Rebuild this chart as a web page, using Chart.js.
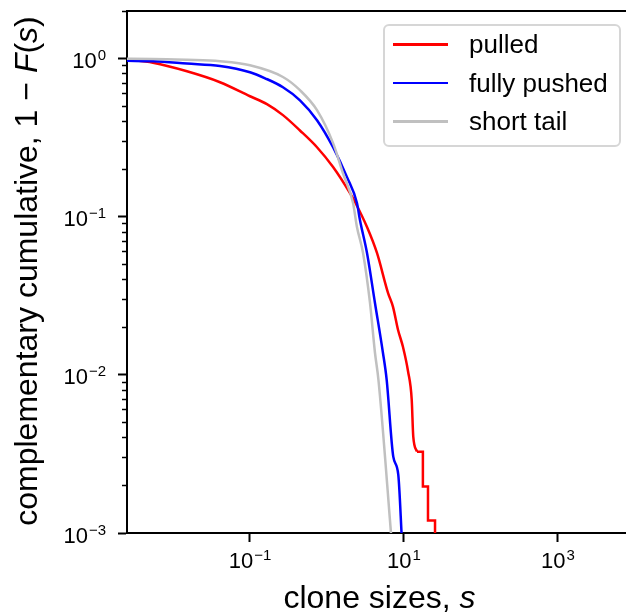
<!DOCTYPE html>
<html>
<head>
<meta charset="utf-8">
<script src="https://cdn.jsdelivr.net/npm/chart.js@4/dist/chart.umd.min.js"></script>
<style>
  html, body { margin: 0; padding: 0; background: #fff; }
  #wrap { position: relative; width: 626px; height: 616px; overflow: hidden; }
  #legend {
    position: absolute; left: 383px; top: 24px; width: 234px; height: 119px;
    border: 2px solid #d6d6d6; border-radius: 6px; background: rgba(255,255,255,0.85);
    font-family: "Liberation Sans", Arial, sans-serif; font-size: 26px; color: #000;
  }
  .row { position: absolute; left: 0; height: 36px; line-height: 36px; white-space: nowrap; }
  .swatch { position: absolute; left: 8px; top: 17px; width: 55px; height: 2.5px; }
  .label { position: absolute; left: 84px; top: 0; }
</style>
</head>
<body>
<div id="wrap">
  <canvas id="chart" width="626" height="616"></canvas>
  <div id="legend"></div>
</div>
<script>
// clone size s and complementary cumulative 1 - F(s)
const seriesNames = ['pulled', 'fully pushed', 'short tail'];
const seriesColors = ['#ff0000', '#0000ff', '#c0c0c0'];

const pulledS = [0.0025, 0.0055, 0.0152, 0.0408, 0.1, 0.166, 0.268, 0.446, 0.742, 1.2, 1.99, 2.31, 3.31, 4.46,
                 6.2, 7.2, 8.36, 9.71, 11.3, 12.6, 13.2, 14.75, 17.6, 17.6, 20.5, 20.5, 25.3, 25.3];
const pulledY = [0.99, 0.941, 0.831, 0.709, 0.578, 0.515, 0.439, 0.351, 0.275, 0.206, 0.141, 0.124, 0.0861, 0.059,
                 0.033, 0.0269, 0.0193, 0.015, 0.0105, 0.00697, 0.00407, 0.00327, 0.00327, 0.00197, 0.00197, 0.0012, 0.0012, 0.0005];
const pulledStepFrom = 21; // empirical steps in the tail

const pushedS = [0.0025, 0.0055, 0.0152, 0.0408, 0.1, 0.157, 0.268, 0.446, 0.742, 1.2, 1.82, 2.45, 2.68, 3.31,
                 4.2, 5.33, 5.96, 7.26, 8.43, 9.4];
const pushedY = [0.969, 0.962, 0.93, 0.898, 0.82, 0.751, 0.659, 0.545, 0.408, 0.275, 0.178, 0.122, 0.0953, 0.059,
                 0.0285, 0.0138, 0.00931, 0.00304, 0.00234, 0.0009];

const shortS = [0.0025, 0.0055, 0.0152, 0.0408, 0.1, 0.268, 0.446, 0.742, 1.2, 1.61, 2.18, 2.45, 2.94, 3.62,
                4.2, 4.66, 6.9];
const shortY = [0.997, 0.996, 0.983, 0.962, 0.907, 0.765, 0.631, 0.472, 0.292, 0.189, 0.122, 0.0861, 0.059, 0.0285,
                0.0138, 0.00931, 0.0009];

const xMin = 0.00253, xMax = 7640;
const yMin = 0.001, yMax = 2;
const xTickVals = [0.1, 10, 1000];
const xTickExps = ['−1', '1', '3'];
const yTickVals = [1, 0.1, 0.01, 0.001];
const yTickExps = ['0', '−1', '−2', '−3'];
const yMinorVals = [];
[0.001, 0.01, 0.1, 1].forEach(d => {
    for (let k = 2; k <= 9; k++) if (k * d <= yMax) yMinorVals.push(k * d);
});

const xTitle = [{t: 'clone sizes, '}, {t: 's', it: true}];
const yTitle = [{t: 'complementary cumulative, 1 − '}, {t: 'F', it: true}, {t: '('}, {t: 's', it: true}, {t: ')'}];

const FONT = '"Liberation Sans", Arial, sans-serif';

function pts(xs, ys) {
    return xs.map((x, i) => ({x, y: ys[i]}));
}

function drawRuns(ctx, runs, cx, y, size) {
    const f = r => (r.it ? 'italic ' : '') + size + 'px ' + FONT;
    let w = 0;
    runs.forEach(r => { ctx.font = f(r); w += ctx.measureText(r.t).width; });
    let x = cx - w / 2;
    runs.forEach(r => { ctx.font = f(r); ctx.fillText(r.t, x, y); x += ctx.measureText(r.t).width; });
}

// "10" with a raised exponent; align: 'center' or 'right'
function drawPow(ctx, exp, x, y, align) {
    ctx.font = '22px ' + FONT;
    const wb = ctx.measureText('10').width;
    ctx.font = '15px ' + FONT;
    const we = ctx.measureText(exp).width + 1;
    const x0 = align === 'right' ? x - wb - we : x - (wb + we) / 2;
    ctx.font = '22px ' + FONT;
    ctx.fillText('10', x0, y);
    ctx.font = '15px ' + FONT;
    ctx.fillText(exp, x0 + wb + 1, y - 8);
}

const axisText = {
    id: 'axisText',
    afterDraw(chart) {
        const {ctx, chartArea: a, scales} = chart;
        ctx.save();
        ctx.fillStyle = '#000';
        ctx.textBaseline = 'alphabetic';
        xTickVals.forEach((v, i) => drawPow(ctx, xTickExps[i], scales.x.getPixelForValue(v), a.bottom + 35, 'center'));
        yTickVals.forEach((v, i) => drawPow(ctx, yTickExps[i], a.left - 21, scales.y.getPixelForValue(v) + 9.5, 'right'));
        drawRuns(ctx, xTitle, (a.left + a.right) / 2 + 3, chart.height - 8, 32);
        ctx.translate(37, (a.top + a.bottom) / 2 - 1);
        ctx.rotate(-Math.PI / 2);
        drawRuns(ctx, yTitle, 0, 0, 32);
        ctx.restore();
    }
};

function renderLegend() {
    const el = document.getElementById('legend');
    el.innerHTML = seriesNames.map((n, i) =>
        `<div class="row" style="top:${0 + i * 38.5}px"><span class="swatch" style="background:${seriesColors[i]}"></span><span class="label">${n}</span></div>`
    ).join('');
}

const lw = 2.5;
new Chart(document.getElementById('chart'), {
    type: 'line',
    data: {
        datasets: [
            {data: pts(shortS, shortY), borderColor: seriesColors[2], borderWidth: lw, cubicInterpolationMode: 'monotone'},
            {data: pts(pushedS, pushedY), borderColor: seriesColors[1], borderWidth: lw, cubicInterpolationMode: 'monotone'},
            {data: pts(pulledS, pulledY).slice(0, pulledStepFrom + 1), borderColor: seriesColors[0], borderWidth: lw, cubicInterpolationMode: 'monotone'},
            {data: pts(pulledS, pulledY).slice(pulledStepFrom), borderColor: seriesColors[0], borderWidth: lw, tension: 0},
        ]
    },
    options: {
        responsive: false,
        animation: false,
        layout: {padding: {left: 0, right: 0, top: 11, bottom: 0}},
        elements: {point: {radius: 0}},
        plugins: {legend: {display: false}, tooltip: {enabled: false}},
        scales: {
            x: {
                type: 'logarithmic', position: 'bottom', min: xMin, max: xMax,
                afterBuildTicks: s => { s.ticks = xTickVals.map(v => ({value: v})); },
                afterFit: s => { s.height = 83; s.paddingLeft = 0; s.paddingRight = 0; },
                ticks: {display: false},
                grid: {drawOnChartArea: false, tickLength: 9, tickWidth: 2, tickColor: '#000'},
                border: {color: '#000', width: 2}
            },
            xTop: {
                type: 'logarithmic', position: 'top', min: xMin, max: xMax,
                afterFit: s => { s.height = 0; },
                ticks: {display: false},
                grid: {display: false},
                border: {color: '#000', width: 2}
            },
            y: {
                type: 'logarithmic', position: 'left', weight: 1, min: yMin, max: yMax,
                afterBuildTicks: s => { s.ticks = yTickVals.map(v => ({value: v})); },
                afterFit: s => { s.width = 127; s.paddingTop = 0; s.paddingBottom = 0; },
                ticks: {display: false},
                grid: {drawOnChartArea: false, tickLength: 9, tickWidth: 2, tickColor: '#000'},
                border: {color: '#000', width: 2}
            },
            yMinor: {
                type: 'logarithmic', position: 'left', weight: 0, min: yMin, max: yMax,
                afterBuildTicks: s => { s.ticks = yMinorVals.map(v => ({value: v})); },
                afterFit: s => { s.width = 0; },
                ticks: {display: false},
                grid: {drawOnChartArea: false, tickLength: 5, tickWidth: 1.5, tickColor: '#000'},
                border: {display: false}
            }
        }
    },
    plugins: [axisText]
});

renderLegend();
</script>
</body>
</html>
